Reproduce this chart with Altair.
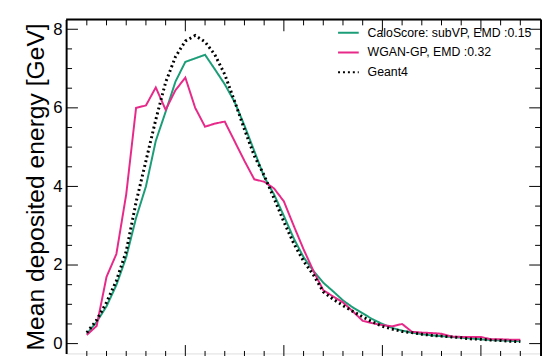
import altair as alt
import pandas as pd

# ---- data ----
layer_idx = list(range(45))
caloscore = [0.25, 0.55, 0.95, 1.49, 2.2, 3.2, 4.0, 5.16, 5.9, 6.67,
             7.17, 7.26, 7.35, 6.98, 6.6, 6.15, 5.55, 4.9, 4.24, 3.8,
             3.25, 2.68, 2.2, 1.85, 1.55, 1.33, 1.1, 0.92, 0.77, 0.62,
             0.5, 0.4, 0.33, 0.28, 0.24, 0.21, 0.19, 0.17, 0.15, 0.13,
             0.11, 0.09, 0.08, 0.07, 0.06]
wgan = [0.22, 0.45, 1.70, 2.28, 3.8, 6.0, 6.06, 6.52, 5.95, 6.45,
        6.77, 6.0, 5.52, 5.6, 5.65, 5.15, 4.65, 4.18, 4.12, 3.95,
        3.62, 3.0, 2.4, 1.85, 1.36, 1.2, 1.05, 0.82, 0.58, 0.52,
        0.47, 0.44, 0.50, 0.30, 0.28, 0.27, 0.25, 0.18, 0.17, 0.17,
        0.17, 0.11, 0.11, 0.10, 0.10]
geant4 = [0.28, 0.6, 1.05, 1.6, 2.35, 3.6, 4.65, 5.7, 6.65, 7.3,
          7.7, 7.84, 7.68, 7.35, 6.85, 6.17, 5.45, 4.78, 4.28, 3.7,
          3.1, 2.55, 2.1, 1.75, 1.32, 1.13, 0.97, 0.82, 0.68, 0.55,
          0.44, 0.37, 0.31, 0.28, 0.24, 0.21, 0.19, 0.17, 0.15, 0.12,
          0.11, 0.09, 0.08, 0.06, 0.05]

series_names = ["CaloScore: subVP, EMD :0.15", "WGAN-GP, EMD :0.32", "Geant4"]
series_colors = ["#1b9e77", "#e7298a", "#000000"]
series_dash = [[1, 0], [1, 0], [2, 3]]
series_width = [2, 2, 3]

y_major = [0, 2, 4, 6, 8]
y_minor = [0.5, 1, 1.5, 2.5, 3, 3.5, 4.5, 5, 5.5, 6.5, 7, 7.5]
x_major = [10, 20, 30, 40]
x_minor = [0, 2, 4, 6, 8, 12, 14, 16, 18, 22, 24, 26, 28, 32, 34, 36, 38, 42, 44]

X_DOMAIN = [-2.1, 46.1]
Y_DOMAIN = [-0.25, 8.25]
W, H = 482, 339
FRAME_BOTTOM = 342.5

rows = []
for name, vals in zip(series_names, [caloscore, wgan, geant4]):
    for i, v in zip(layer_idx, vals):
        rows.append({"layer": i, "energy": v, "series": name})
df = pd.DataFrame(rows)

xs = alt.Scale(domain=X_DOMAIN, nice=False, zero=False)
ys = alt.Scale(domain=Y_DOMAIN, nice=False, zero=False)

FONT = "Liberation Sans"

legend = alt.Legend(
    orient="none", legendX=275, legendY=2, title=None,
    symbolType="stroke", symbolSize=441, symbolStrokeWidth=2,
    labelFontSize=12.5, labelFont=FONT, labelColor="black", labelLimit=400,
    labelOffset=8, rowPadding=2, padding=0,
)
color_enc = alt.Color(
    "series:N",
    scale=alt.Scale(domain=series_names, range=series_colors),
    sort=series_names, legend=legend,
)
dash_enc = alt.StrokeDash(
    "series:N",
    scale=alt.Scale(domain=series_names, range=series_dash),
    sort=series_names, legend=legend,
)

TITLE = "Mean deposited energy [GeV]"
yaxis = alt.Axis(
    values=y_major, ticks=False, grid=False, domain=True,
    domainColor="black", domainWidth=2,
    labelFont=FONT, labelFontSize=17, labelColor="black", labelPadding=4,
    title=TITLE, titleFont=FONT, titleFontSize=25,
    titleFontWeight="normal", titleColor="black", titlePadding=5,
)

layers = []
for name, w in zip(series_names, series_width):
    layers.append(
        alt.Chart(df).transform_filter(alt.datum.series == name)
        .mark_line(strokeWidth=w)
        .encode(
            x=alt.X("layer:Q", scale=xs, axis=None),
            y=alt.Y("energy:Q", scale=ys, axis=yaxis, title=TITLE),
            color=color_enc,
            strokeDash=dash_enc,
        )
    )

def tick_df(vals):
    return pd.DataFrame({"v": vals})

# y ticks (left and right, inward)
ytick_layers = []
for vals, ln in [(y_major, 12), (y_minor, 6)]:
    d = tick_df(vals)
    ytick_layers.append(alt.Chart(d).mark_rule(color="black", strokeWidth=1)
                        .encode(y=alt.Y("v:Q", scale=ys, axis=yaxis, title=TITLE),
                                x=alt.value(0), x2=alt.value(ln)))
    ytick_layers.append(alt.Chart(d).mark_rule(color="black", strokeWidth=1)
                        .encode(y=alt.Y("v:Q", scale=ys, axis=yaxis, title=TITLE),
                                x=alt.value(W), x2=alt.value(W - ln)))
# x ticks (top and bottom, inward)
xtick_layers = []
for vals, ln in [(x_major, 12), (x_minor, 6)]:
    d = tick_df(vals)
    xtick_layers.append(alt.Chart(d).mark_rule(color="black", strokeWidth=1)
                        .encode(x=alt.X("v:Q", scale=xs, axis=None), y=alt.value(0), y2=alt.value(ln)))
    xtick_layers.append(alt.Chart(d).mark_rule(color="black", strokeWidth=1)
                        .encode(x=alt.X("v:Q", scale=xs, axis=None),
                                y=alt.value(FRAME_BOTTOM), y2=alt.value(FRAME_BOTTOM - ln)))

frame_top = alt.Chart(tick_df([0])).mark_rule(color="black", strokeWidth=2).encode(
    x=alt.value(0), x2=alt.value(W), y=alt.value(0))
frame_right = alt.Chart(tick_df([0])).mark_rule(color="black", strokeWidth=2).encode(
    x=alt.value(W), y=alt.value(0), y2=alt.value(FRAME_BOTTOM))

chart = alt.layer(*layers, *ytick_layers, *xtick_layers, frame_top, frame_right).properties(
    width=W, height=H,
    autosize=alt.AutoSizeParams(type="none"),
    padding={"left": 59, "top": 9, "right": 1, "bottom": 0},
).configure_view(stroke=None).configure(background="white")

chart.save("out.html", embed_options={"renderer": "svg", "actions": False})
